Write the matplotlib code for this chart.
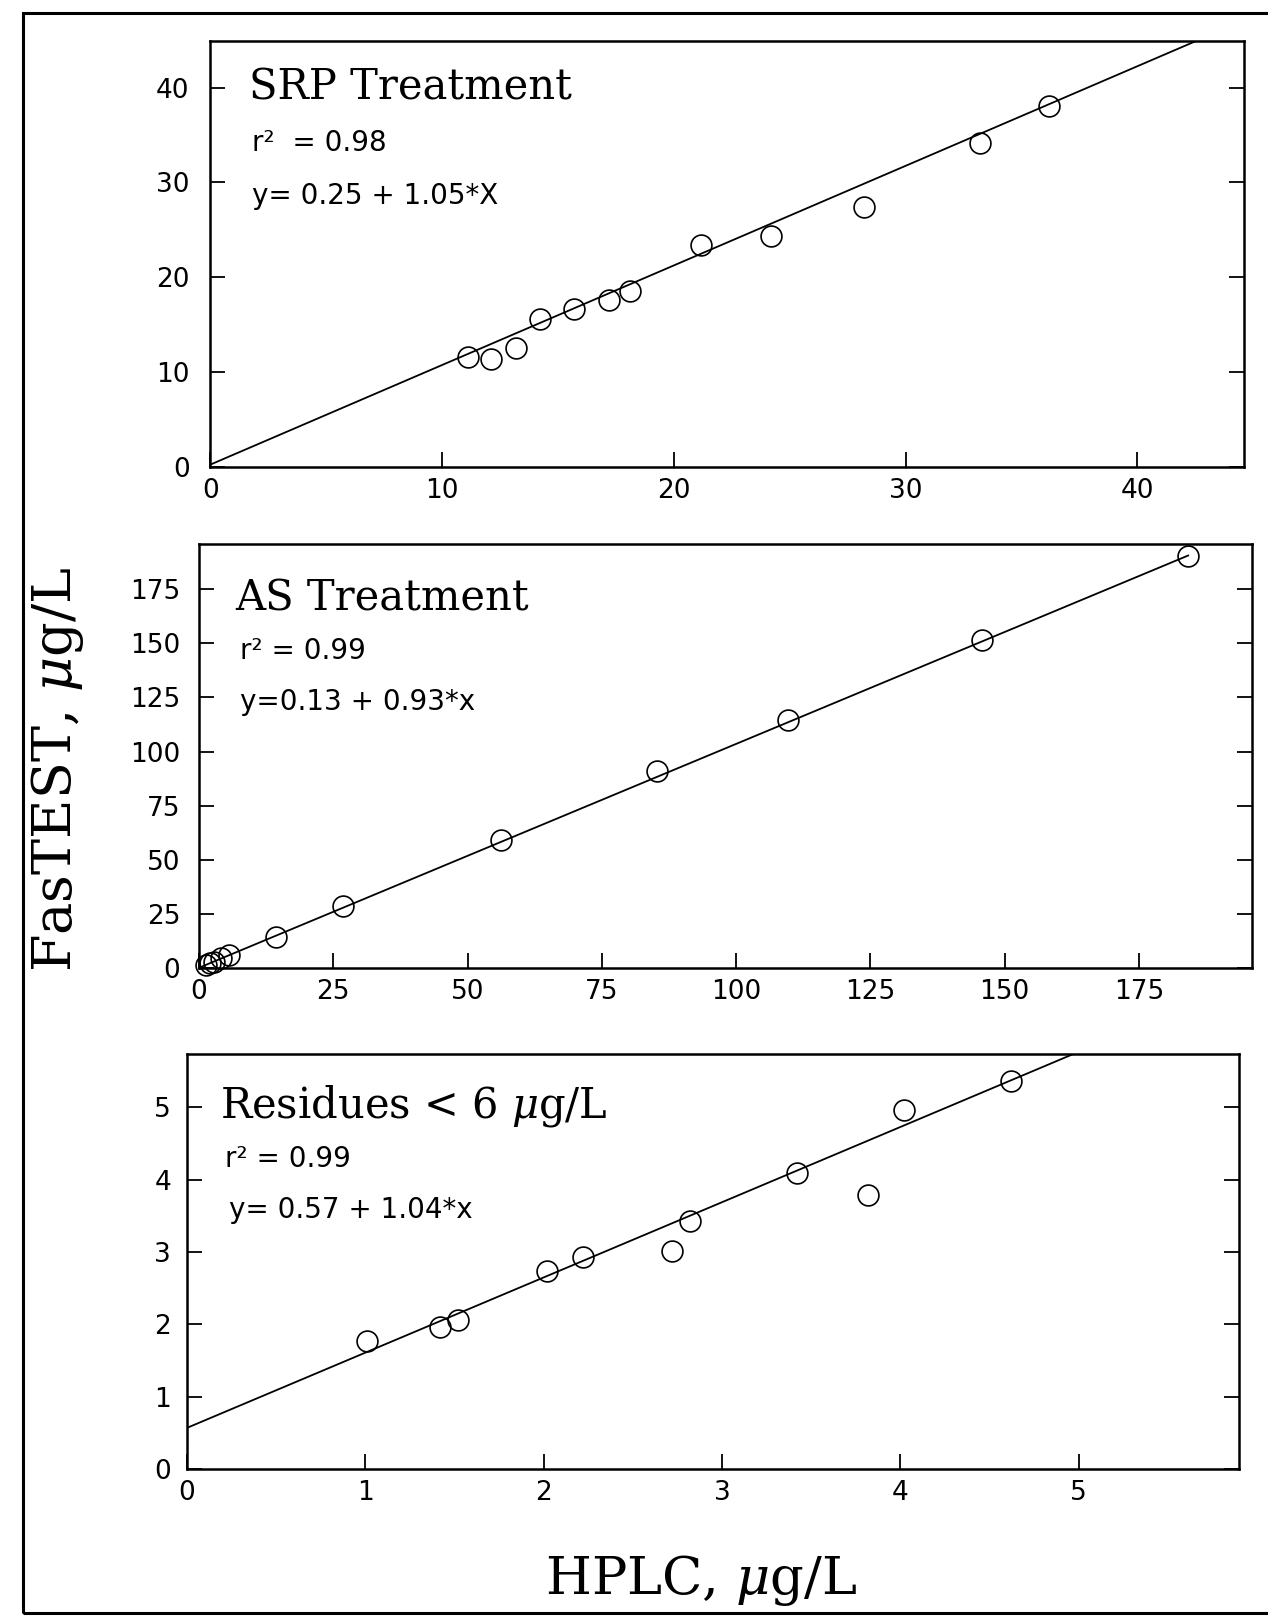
import matplotlib.pyplot as plt
from matplotlib.patches import Rectangle

plt.rcParams["mathtext.fontset"] = "dejavuserif"

# SRP treatment (HPLC vs FasTEST, ug/L)
srp_x = [11.1, 12.1, 13.2, 14.2, 15.7, 17.2, 18.1, 21.15, 24.2, 28.2, 33.2, 36.2]
srp_y = [11.6, 11.4, 12.5, 15.6, 16.6, 17.6, 18.5, 23.4, 24.4, 27.4, 34.2, 38.1]
srp_fit = (0.25, 1.05)

# AS treatment
as_x = [1.2, 2.0, 2.8, 4.0, 5.5, 14.3, 26.8, 56.3, 85.2, 109.6, 145.9, 184.2]
as_y = [1.5, 2.2, 3.0, 4.5, 6.0, 14.4, 28.7, 59.3, 90.9, 114.4, 151.7, 190.4]
as_fit_drawn = (0.13, 1.034)

# residues < 6 ug/L
res_x = [1.01, 1.42, 1.52, 2.02, 2.22, 2.72, 2.82, 3.42, 3.82, 4.02, 4.62]
res_y = [1.77, 1.96, 2.06, 2.74, 2.93, 3.01, 3.43, 4.09, 3.79, 4.97, 5.37]
res_fit = (0.57, 1.04)

panels = [
    dict(x=srp_x, y=srp_y, fit=srp_fit, xlim=(0, 44.6), ylim=(0, 44.9),
         ticks=[0, 10, 20, 30, 40], yticks=[0, 10, 20, 30, 40], ypad=15,
         title="SRP Treatment", r2="r²  = 0.98", eq="y= 0.25 + 1.05*X",
         pos=[0.166, 0.7116, 0.815, 0.263],
         tpos=(0.037, 0.862), rpos=(0.040, 0.742), epos=(0.040, 0.617), fit_end=None),
    dict(x=as_x, y=as_y, fit=as_fit_drawn, xlim=(0, 196), ylim=(0, 196),
         ticks=[0, 25, 50, 75, 100, 125, 150, 175], yticks=[0, 25, 50, 75, 100, 125, 150, 175],
         ypad=13.5,
         title="AS Treatment", r2="r² = 0.99", eq="y=0.13 + 0.93*x",
         pos=[0.157, 0.4021, 0.830, 0.262],
         tpos=(0.034, 0.842), rpos=(0.039, 0.729), epos=(0.039, 0.608), fit_end=max(as_x)),
    dict(x=res_x, y=res_y, fit=res_fit, xlim=(0, 5.9), ylim=(0, 5.74),
         ticks=[0, 1, 2, 3, 4, 5], yticks=[0, 1, 2, 3, 4, 5], ypad=11.5,
         title=r"Residues < 6 $\mu$g/L", r2="r² = 0.99", eq="y= 0.57 + 1.04*x",
         pos=[0.1475, 0.0926, 0.8297, 0.2564],
         tpos=(0.031, 0.848), rpos=(0.036, 0.728), epos=(0.040, 0.605), fit_end=None),
]

fig = plt.figure(figsize=(12.68, 16.19), dpi=100, facecolor="white")

for p in panels:
    ax = fig.add_axes(p["pos"])
    b0, b1 = p["fit"]
    x_end = p["fit_end"] if p["fit_end"] is not None else p["xlim"][1]
    ax.plot([0, x_end], [b0, b0 + b1 * x_end], color="black", lw=1.3)
    ax.plot(p["x"], p["y"], "o", mfc="none", mec="black", ms=15, mew=1.2, clip_on=False)
    ax.set_xlim(*p["xlim"])
    ax.set_ylim(*p["ylim"])
    ax.set_xticks(p["ticks"])
    ax.set_yticks(p["yticks"])
    ax.tick_params(direction="in", length=11, width=1.3, right=True, top=False,
                   labelsize=19, colors="black")
    ax.tick_params(axis="y", pad=p["ypad"])
    ax.tick_params(axis="x", pad=8)
    for s in ax.spines.values():
        s.set_linewidth(1.8)
    ax.text(*p["tpos"], p["title"], transform=ax.transAxes, family="DejaVu Serif",
            fontsize=30, va="baseline", ha="left")
    ax.text(*p["rpos"], p["r2"], transform=ax.transAxes, fontsize=20,
            va="baseline", ha="left")
    ax.text(*p["epos"], p["eq"], transform=ax.transAxes, fontsize=20,
            va="baseline", ha="left")

fig.text(0.045, 0.525, r"FasTEST, $\mu$g/L", rotation=90, family="DejaVu Serif",
         fontsize=39, ha="center", va="center")
fig.text(0.553, 0.024, r"HPLC, $\mu$g/L", family="DejaVu Serif",
         fontsize=38, ha="center", va="center")

# outer frame of the scanned figure
fig.patches.append(Rectangle((0.018, 0.004), 0.985, 0.988, transform=fig.transFigure,
                             fill=False, edgecolor="black", lw=2.2))

fig.savefig("out.png", dpi=100, facecolor="white")
